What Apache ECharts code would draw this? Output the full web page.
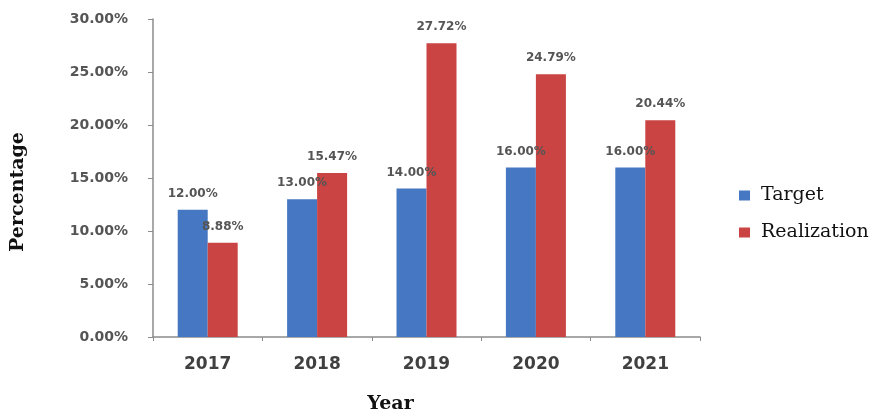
<!DOCTYPE html>
<html>
<head>
<meta charset="utf-8">
<script src="https://cdn.jsdelivr.net/npm/echarts@6/dist/echarts.min.js"></script>
<style>
  html, body { margin: 0; padding: 0; background: #fff; }
  #chart { width: 874px; height: 416px; }
</style>
</head>
<body>
<div id="chart"></div>
<script>
const years = ['2017', '2018', '2019', '2020', '2021'];
const target = [12.00, 13.00, 14.00, 16.00, 16.00];
const realization = [8.88, 15.47, 27.72, 24.79, 20.44];

const BLUE = '#4677c2';
const RED = '#c94443';
const AXIS = '#8c8c8c';
const SERIF = '"DejaVu Serif", "Liberation Serif", serif';
const SANS = '"DejaVu Sans", "Open Sans", sans-serif';

const valueLabel = {
  show: true,
  position: 'top',
  distance: 10,
  color: '#555',
  fontFamily: SANS,
  fontSize: 12,
  fontWeight: 'bold',
  formatter: p => p.value.toFixed(2) + '%'
};

const chart = echarts.init(document.getElementById('chart'));
chart.setOption({
  animation: false,
  grid: { left: 153, right: 174, top: 19, bottom: 79, outerBoundsMode: 'none' },
  legend: {
    orient: 'vertical',
    left: 734,
    top: 181,
    itemWidth: 11,
    itemHeight: 10,
    itemGap: 18,
    icon: 'rect',
    textStyle: { fontFamily: SERIF, fontSize: 19, color: '#111', padding: [0, 0, 0, 6] },
    data: ['Target', 'Realization']
  },
  xAxis: {
    type: 'category',
    data: years,
    name: 'Year',
    nameLocation: 'middle',
    nameGap: 58,
    nameTextStyle: {
      fontFamily: SERIF, fontSize: 19, fontWeight: 'bold', color: '#111',
      padding: [0, 72, 0, 0]
    },
    axisLine: { lineStyle: { color: AXIS, width: 1.5 } },
    axisTick: { show: true, length: 4, lineStyle: { color: AXIS } },
    axisLabel: { margin: 19, fontFamily: SANS, fontSize: 17, fontWeight: 'bold', color: '#404040' }
  },
  yAxis: {
    type: 'value',
    min: 0,
    max: 30,
    interval: 5,
    name: 'Percentage',
    nameLocation: 'middle',
    nameGap: 125,
    nameTextStyle: {
      fontFamily: SERIF, fontSize: 19, fontWeight: 'bold', color: '#111',
      padding: [0, 28, 0, 0]
    },
    splitLine: { show: false },
    axisLine: { show: true, lineStyle: { color: AXIS, width: 1.5 } },
    axisTick: { show: true, length: 5, lineStyle: { color: AXIS } },
    axisLabel: {
      margin: 25,
      fontFamily: SANS,
      fontSize: 14,
      fontWeight: 'bold',
      color: '#555',
      formatter: v => v.toFixed(2) + '%'
    }
  },
  series: [
    {
      name: 'Target',
      type: 'bar',
      data: target,
      barWidth: 30,
      barGap: '0%',
      itemStyle: { color: BLUE },
      label: valueLabel
    },
    {
      name: 'Realization',
      type: 'bar',
      data: realization,
      barWidth: 30,
      barGap: '0%',
      itemStyle: { color: RED },
      label: valueLabel
    }
  ]
});
</script>
</body>
</html>
